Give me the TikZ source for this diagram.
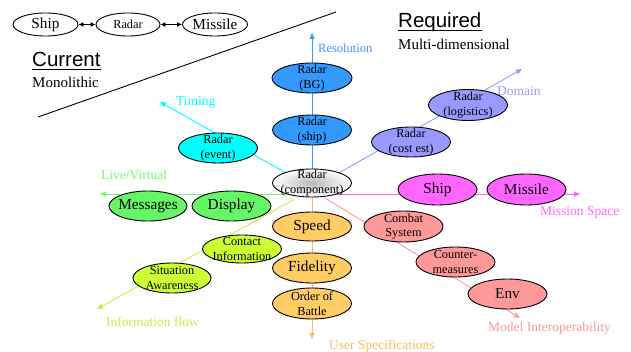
\documentclass[tikz,border=0pt]{standalone}
\usepackage{fontspec}
\setmainfont{Liberation Serif}
\newfontfamily\arialf{Liberation Sans}
\usetikzlibrary{shapes.geometric,arrows.meta}
\definecolor{cblue}{RGB}{51,153,255}
\definecolor{ccyan}{RGB}{0,255,255}
\definecolor{cgreen}{RGB}{102,245,102}
\definecolor{cgreenl}{RGB}{110,250,110}
\definecolor{cmag}{RGB}{255,102,255}
\definecolor{cpur}{RGB}{153,153,255}
\definecolor{corange}{RGB}{255,204,102}
\definecolor{corangel}{RGB}{255,185,90}
\definecolor{cyg}{RGB}{204,255,51}
\definecolor{cygl}{RGB}{204,232,70}
\definecolor{csal}{RGB}{255,153,153}
\begin{document}
\begin{tikzpicture}[x=1pt,y=-1pt,
  el/.style={ellipse,draw=black,line width=0.9pt,inner sep=-12pt,minimum width=79pt,minimum height=30pt,align=center,font=\fontsize{12.3}{14.5}\selectfont},
  big/.style={font=\fontsize{15.3}{17}\selectfont},
  axis/.style={line width=0.9pt,-{Triangle[length=6pt,width=5pt]}},
  lab/.style={anchor=base west,inner sep=0pt,font=\fontsize{13.5}{15}\selectfont},
  title/.style={anchor=base west,inner sep=0pt,font=\arialf\fontsize{20.5}{22}\selectfont},
  sub/.style={anchor=base west,inner sep=0pt,font=\fontsize{15}{17}\selectfont},
  dbl/.style={line width=0.9pt,{Latex[length=5pt,width=5pt]}-{Latex[length=5pt,width=5pt]}},
  topel/.style={ellipse,draw=black,line width=0.9pt,inner sep=-12pt,minimum width=65pt,minimum height=23pt}]
\useasboundingbox (0,0) rectangle (631,352);

% top row
\node[topel,font=\fontsize{15.3}{17}\selectfont] (tship) at (45.5,24.5) {Ship};
\node[topel,font=\fontsize{12.3}{14}\selectfont,minimum width=64pt] (tradar) at (128,24.5) {Radar};
\node[topel,font=\fontsize{15.3}{17}\selectfont] (tmis) at (215,24.5) {Missile};
\draw[dbl] (tship) -- (tradar);
\draw[dbl] (tradar) -- (tmis);

% titles
\node[title] (cur) at (32,67) {Current};
\draw[line width=1.3pt] ([yshift=-2.8pt]cur.base west) -- ([yshift=-2.8pt]cur.base east);
\node[sub] (mono) at (32,88) {Monolithic};
\node[title] (req) at (398,28) {Required};
\draw[line width=1.3pt] ([yshift=-2.8pt]req.base west) -- ([yshift=-2.8pt]req.base east);
\node[sub] (multi) at (398,50) {Multi-dimensional};
\coordinate (d1) at (38,117);
\coordinate (d2) at (336,12);
\draw[line width=0.9pt] (d1) -- (d2);

% axis coordinates
\coordinate (cc) at (312,183);
\coordinate (resT) at (312,33);
\coordinate (timS) at (295,178);
\coordinate (timT) at (160,102);
\coordinate (domS) at (330,178);
\coordinate (domT) at (522,69);
\coordinate (lvS) at (300,194);
\coordinate (lvT) at (100,194);
\coordinate (msS) at (325,194);
\coordinate (msT) at (580,194);
\coordinate (usT) at (312,339);
\coordinate (ifS) at (293,200);
\coordinate (ifT) at (97,309);
\coordinate (miS) at (325,198);
\coordinate (miT) at (520,318);

\draw[axis,cblue] (cc) -- (resT);
\draw[axis,ccyan] (timS) -- (timT);
\draw[axis,cpur] (domS) -- (domT);
\draw[axis,cgreenl] (lvS) -- (lvT);
\draw[axis,cmag] (msS) -- (msT);
\draw[axis,corangel] (cc) -- (usT);
\draw[axis,cygl] (ifS) -- (ifT);
\draw[axis,csal] (miS) -- (miT);

% axis labels
\node[lab,text=cblue,font=\fontsize{12.5}{14}\selectfont] (lres) at (318,53) {Resolution};
\node[lab,text=ccyan] (ltim) at (176,106) {Timing};
\node[lab,text=cpur] (ldom) at (497,96) {Domain};
\node[lab,text=cgreenl] (llv) at (101,179.5) {Live/Virtual};
\node[lab,text=cmag] (lms) at (540,216) {Mission Space};
\node[lab,text=cygl] (lif) at (106,326) {Information flow};
\node[lab,text=csal] (lmi) at (488,331) {Model Interoperability};
\node[lab,text=corangel] (lus) at (329,349) {User Specifications};

% nodes
\node[el,fill=cblue,minimum width=80pt] (bg) at (312,78) {Radar\\(BG)};
\node[el,fill=cblue] (rship) at (312,130) {Radar\\(ship)};
\node[el,fill=ccyan] (rev) at (218,148) {Radar\\(event)};
\node[el,fill=cpur,minimum height=31pt] (rlog) at (468,105) {Radar\\(logistics)};
\node[el,fill=cpur] (rcost) at (411,142) {Radar\\(cost est)};
\node[el,inner color=gray!55,outer color=white,minimum height=28pt] (comp) at (312,183) {Radar\\(component)};
\node[el,big,fill=cgreen,minimum width=78pt] (msg) at (148,206) {Messages};
\node[el,big,fill=cgreen] (disp) at (231.5,206) {Display};
\node[el,big,fill=cmag,minimum height=31pt] (ship) at (437.5,189.5) {Ship};
\node[el,big,fill=cmag,minimum height=31pt] (mis) at (526.5,189.5) {Missile};
\node[el,big,fill=corange,minimum height=29pt] (speed) at (312,226.5) {Speed};
\node[el,big,fill=corange] (fid) at (312,268) {Fidelity};
\node[el,fill=corange,minimum height=31pt] (oob) at (312,303.5) {Order of\\Battle};
\node[el,fill=cyg,minimum height=28pt] (ci) at (242,249) {Contact\\Information};
\node[el,fill=cyg,minimum width=78pt] (sa) at (172,278) {Situation\\Awareness};
\node[el,fill=csal,minimum height=31pt] (cs) at (403.5,226.5) {Combat\\System};
\node[el,fill=csal] (cm) at (455.5,262) {Counter-\\measures};
\node[el,big,fill=csal] (env) at (507.5,294) {Env};
\end{tikzpicture}
\end{document}
